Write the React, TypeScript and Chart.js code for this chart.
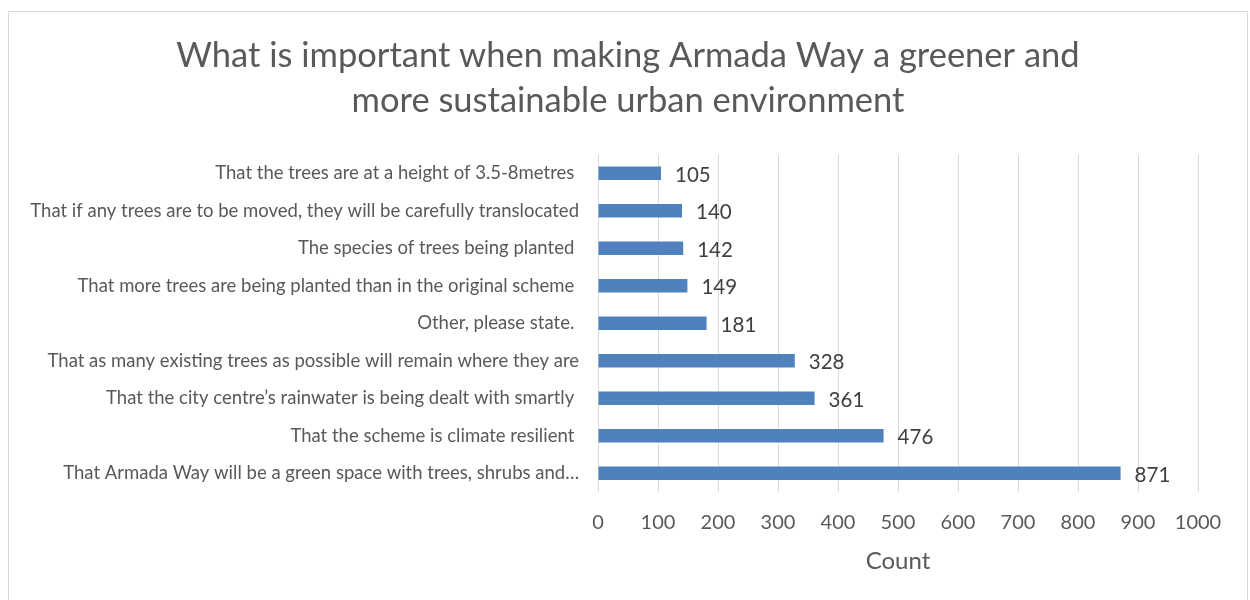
import React, { useEffect, useRef } from "react";
import { Chart, registerables } from "chart.js";

Chart.register(...registerables);

const titleLines = [
  "What is important when making Armada Way a greener and",
  "more sustainable urban environment",
];

const categories = [
  "That the trees are at a height of 3.5-8metres ",
  "That if any trees are to be moved, they will be carefully translocated",
  "The species of trees being planted ",
  "That more trees are being planted than in the original scheme ",
  "Other, please state. ",
  "That as many existing trees as possible will remain where they are",
  "That the city centre\u2019s rainwater is being dealt with smartly ",
  "That the scheme is climate resilient ",
  "That Armada Way will be a green space with trees, shrubs and\u2026",
];

const counts = [105, 140, 142, 149, 181, 328, 361, 476, 871];

const xMin = 0;
const xMax = 1000;
const xStep = 100;
const xTitle = "Count";

const FONT = "Lato, 'Noto Sans', sans-serif";
const TEXT = "#595959";

const borderPlugin = {
  id: "outerBorder",
  beforeDraw(chart: any) {
    const ctx = chart.ctx;
    ctx.save();
    ctx.fillStyle = "#ffffff";
    ctx.fillRect(0, 0, chart.width, chart.height);
    ctx.strokeStyle = "#d9d9d9";
    ctx.lineWidth = 1;
    ctx.strokeRect(8.5, 11.5, 1239, 600);
    ctx.restore();
  },
};

const dataLabelPlugin = {
  id: "dataLabels",
  afterDatasetsDraw(chart: any) {
    const ctx = chart.ctx;
    const meta = chart.getDatasetMeta(0);
    ctx.save();
    ctx.font = `20.5px ${FONT}`;
    ctx.fillStyle = "#404040";
    ctx.textAlign = "left";
    ctx.textBaseline = "middle";
    meta.data.forEach((bar: any, i: number) => {
      ctx.fillText(String(chart.data.datasets[0].data[i]), bar.x + 14, bar.y + 2);
    });
    ctx.restore();
  },
};

export default function App() {
  const ref = useRef<HTMLCanvasElement | null>(null);

  useEffect(() => {
    document.body.style.margin = "0";
    if (!ref.current) return;
    const chart = new Chart(ref.current, {
      type: "bar",
      data: {
        labels: categories,
        datasets: [
          {
            data: counts,
            backgroundColor: "#4f81bd",
            borderWidth: 0,
            categoryPercentage: 1,
            barPercentage: 0.36,
          },
        ],
      },
      options: {
        indexAxis: "y",
        animation: false,
        responsive: false,
        maintainAspectRatio: false,
        layout: { padding: { left: 8, right: 2, top: 10, bottom: 0 } },
        plugins: {
          legend: { display: false },
          tooltip: { enabled: false },
          title: {
            display: true,
            text: titleLines,
            color: TEXT,
            font: { family: FONT, size: 34.5, weight: "normal", lineHeight: 1.31 },
            padding: { top: 23, bottom: 31 },
          },
        },
        scales: {
          x: {
            min: xMin,
            max: xMax,
            ticks: {
              stepSize: xStep,
              color: TEXT,
              font: { family: FONT, size: 20 },
              padding: 19,
              callback: (v: any) => String(v),
            },
            grid: { color: "#d9d9d9", drawTicks: false, lineWidth: 1 },
            border: { display: false },
            title: {
              display: true,
              text: xTitle,
              color: TEXT,
              font: { family: FONT, size: 24 },
              padding: { top: 0, bottom: 24 },
            },
            afterFit(scale: any) {
              scale.height = 108;
              scale.paddingRight = 52;
            },
          },
          y: {
            ticks: {
              color: TEXT,
              font: { family: FONT, size: 18.5 },
              padding: 19,
              autoSkip: false,
            },
            grid: { display: false, drawTicks: false },
            border: { display: false },
            afterFit(scale: any) {
              scale.width = 590;
            },
          },
        },
      },
      plugins: [borderPlugin, dataLabelPlugin],
    } as any);
    return () => chart.destroy();
  }, []);

  return <canvas ref={ref} width={1250} height={600} style={{ display: "block" }} />;
}
